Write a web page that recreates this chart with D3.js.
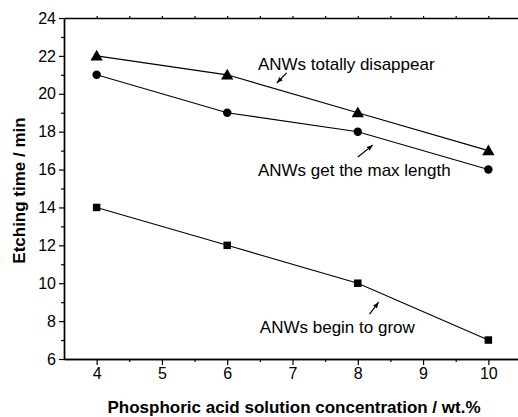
<!DOCTYPE html>
<html>
<head>
<meta charset="utf-8">
<script src="https://cdn.jsdelivr.net/npm/d3@7"></script>
<style>
  html, body { margin: 0; padding: 0; background: #fff; }
  svg { display: block; font-family: 'Liberation Sans', Arial, sans-serif; }
</style>
</head>
<body>
<div id="chart"></div>
<script>
const concentrations = [4, 6, 8, 10];
const disappearTimes = [22, 21, 19, 17];
const maxLengthTimes = [21, 19, 18, 16];
const beginGrowTimes = [14, 12, 10, 7];

const xTicks = [4, 5, 6, 7, 8, 9, 10];
const yTicks = [6, 8, 10, 12, 14, 16, 18, 20, 22, 24];

// annotation text anchors and arrows, in data units
const noteLabels = ['ANWs totally disappear', 'ANWs get the max length', 'ANWs begin to grow'];
const noteX = [6.47, 6.47, 6.5];
const noteY = [21.25, 15.66, 7.37];
const arrowFrom = [[6.91, 21.1], [8.0, 16.66], [8.18, 8.37]];
const arrowTo = [[6.76, 20.57], [8.23, 17.29], [8.32, 9.0]];

const width = 518, height = 417;
const margin = { top: 18, left: 64, bottom: 58 };
const plotRight = 521;

const x = d3.scaleLinear().domain([3.5, 10.5]).range([margin.left, plotRight]);
const y = d3.scaleLinear().domain([6, 24]).range([height - margin.bottom, margin.top]);

const svg = d3.select('#chart').append('svg')
  .attr('width', width)
  .attr('height', height);

svg.append('rect').attr('width', width).attr('height', height).attr('fill', '#fff');

svg.append('defs').append('marker')
  .attr('id', 'head')
  .attr('viewBox', '0 0 10 10')
  .attr('refX', 10)
  .attr('refY', 5)
  .attr('markerWidth', 6)
  .attr('markerHeight', 6)
  .attr('markerUnits', 'userSpaceOnUse')
  .attr('orient', 'auto')
  .append('path')
  .attr('d', 'M0,1 L10,5 L0,9 Z')
  .attr('fill', '#000');

const y0 = y(6);

// Axes
svg.append('g')
  .attr('transform', `translate(0,${y0})`)
  .call(d3.axisBottom(x).tickValues(xTicks).tickFormat(d3.format('d'))
    .tickSize(6).tickSizeOuter(0).tickPadding(3));

svg.append('g')
  .attr('transform', `translate(0,${y0})`)
  .call(d3.axisBottom(x).tickValues(d3.range(4.5, 10.5, 1)).tickSize(3).tickSizeOuter(0).tickFormat(''));

svg.append('g')
  .attr('transform', `translate(${margin.left},0)`)
  .call(d3.axisLeft(y).tickValues(yTicks).tickFormat(d3.format('d'))
    .tickSize(5).tickSizeOuter(0).tickPadding(3));

svg.append('g')
  .attr('transform', `translate(${margin.left},0)`)
  .call(d3.axisLeft(y).tickValues(d3.range(7, 24, 2)).tickSize(3).tickSizeOuter(0).tickFormat(''));

// top axis, no labels
svg.append('g')
  .attr('transform', `translate(0,${y(24)})`)
  .call(d3.axisTop(x).tickValues(d3.range(4, 10.5, 0.5)).tickSize(2).tickSizeOuter(0).tickFormat(''));

svg.selectAll('.domain').attr('stroke', '#000').attr('stroke-width', 1.4);
svg.selectAll('.tick line').attr('stroke', '#000').attr('stroke-width', 1.2);
svg.selectAll('.tick text').attr('fill', '#000').attr('font-size', '16px')
  .attr('font-family', "'Liberation Sans', Arial, sans-serif");

// Axis titles
svg.append('text')
  .attr('x', 294)
  .attr('y', 413)
  .attr('text-anchor', 'middle')
  .attr('font-weight', 'bold')
  .attr('font-size', '17px')
  .text('Phosphoric acid solution concentration / wt.%');

svg.append('text')
  .attr('transform', `translate(25,${(y(6) + y(24)) / 2 + 2}) rotate(-90)`)
  .attr('text-anchor', 'middle')
  .attr('font-weight', 'bold')
  .attr('font-size', '17px')
  .text('Etching time / min');

// Series
const seriesList = [
  { values: disappearTimes, shape: d3.symbolTriangle, size: 66 },
  { values: maxLengthTimes, shape: d3.symbolCircle, size: 56 },
  { values: beginGrowTimes, shape: d3.symbolSquare, size: 56 }
];

const line = d3.line()
  .x((d, i) => x(concentrations[i]))
  .y(d => y(d));

seriesList.forEach(s => {
  svg.append('path')
    .datum(s.values)
    .attr('d', line)
    .attr('fill', 'none')
    .attr('stroke', '#000')
    .attr('stroke-width', 1.1);

  svg.append('g').selectAll('path')
    .data(s.values)
    .join('path')
    .attr('transform', (d, i) => `translate(${x(concentrations[i])},${y(d) + (s.shape === d3.symbolTriangle ? 1 : 0)})`)
    .attr('d', d3.symbol(s.shape, s.size))
    .attr('fill', '#000');
});

// Annotations
noteLabels.forEach((label, i) => {
  svg.append('text')
    .attr('x', x(noteX[i]))
    .attr('y', y(noteY[i]))
    .attr('font-size', '17px')
    .attr('fill', '#000')
    .text(label);

  svg.append('line')
    .attr('x1', x(arrowFrom[i][0]))
    .attr('y1', y(arrowFrom[i][1]))
    .attr('x2', x(arrowTo[i][0]))
    .attr('y2', y(arrowTo[i][1]))
    .attr('stroke', '#000')
    .attr('stroke-width', 1.2)
    .attr('marker-end', 'url(#head)');
});
</script>
</body>
</html>
